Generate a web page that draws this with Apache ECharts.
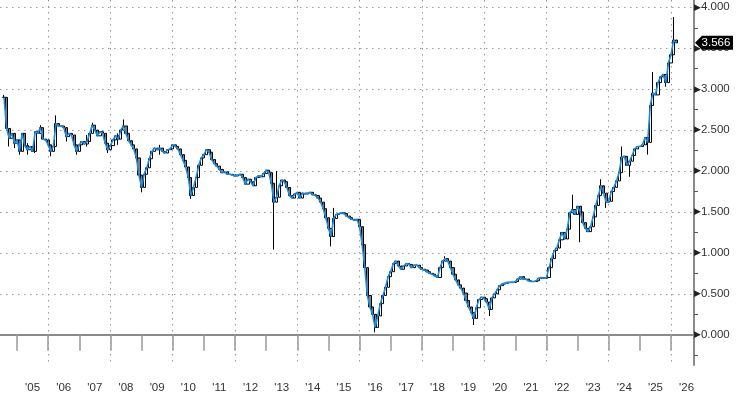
<!DOCTYPE html>
<html><head><meta charset="utf-8">
<script src="https://cdn.jsdelivr.net/npm/echarts@6/dist/echarts.min.js"></script>
<style>html,body{margin:0;padding:0;background:#fff}#c{width:736px;height:394px}</style>
</head><body><div id="c"></div>
<script>
// first monthly observation (decimal year), one value per month
const startYear = 2004.583;
const closes = [
2.90,2.52,2.40,2.46,2.34,2.38,2.24,2.46,2.31,2.26,
2.30,2.24,2.48,2.46,2.53,2.39,2.38,2.32,2.24,2.30,
2.58,2.55,2.55,2.53,2.42,2.46,2.44,2.32,2.24,2.32,
2.36,2.33,2.36,2.46,2.56,2.50,2.43,2.48,2.46,2.34,
2.26,2.31,2.38,2.43,2.39,2.50,2.55,2.46,2.37,2.32,
2.27,2.16,1.95,1.80,1.96,2.04,2.15,2.24,2.28,2.26,
2.28,2.24,2.22,2.26,2.27,2.32,2.30,2.27,2.20,2.13,
2.05,1.92,1.70,1.80,1.92,2.07,2.16,2.20,2.26,2.23,
2.14,2.09,2.06,2.02,1.98,1.99,1.96,1.96,1.95,1.94,
1.95,1.96,1.92,1.84,1.90,1.87,1.82,1.92,1.94,1.93,
1.97,2.01,1.98,1.85,1.62,1.68,1.82,1.89,1.87,1.80,
1.70,1.67,1.72,1.74,1.67,1.73,1.72,1.73,1.74,1.71,
1.70,1.67,1.62,1.54,1.43,1.30,1.20,1.42,1.47,1.48,
1.49,1.48,1.45,1.43,1.41,1.40,1.41,1.32,1.10,0.82,
0.48,0.34,0.25,0.09,0.23,0.38,0.48,0.58,0.71,0.77,
0.87,0.90,0.84,0.80,0.84,0.87,0.86,0.82,0.85,0.85,
0.82,0.80,0.79,0.77,0.75,0.74,0.72,0.70,0.82,0.90,
0.93,0.90,0.82,0.74,0.67,0.61,0.57,0.51,0.42,0.34,
0.27,0.20,0.33,0.43,0.46,0.44,0.40,0.31,0.45,0.50,
0.55,0.60,0.62,0.63,0.64,0.64,0.64,0.65,0.68,0.71,
0.68,0.68,0.66,0.65,0.65,0.66,0.69,0.70,0.69,0.70,
0.82,0.93,1.03,1.06,1.16,1.25,1.17,1.29,1.49,1.53,
1.47,1.57,1.50,1.37,1.30,1.26,1.32,1.44,1.58,1.70,
1.82,1.73,1.62,1.63,1.75,1.80,1.88,1.98,2.17,2.18,
2.07,2.12,2.19,2.27,2.30,2.30,2.32,2.41,2.35,2.80,
2.95,2.93,3.08,3.15,3.18,3.08,3.32,3.42,3.60,3.566
];
// [month index, wick low, wick high]
const spikes = [
[0,null,2.93],[2,2.30,2.50],[4,2.28,2.44],[6,2.20,null],[9,2.20,2.34],[12,2.22,null],[14,null,2.56],
[18,2.18,null],[20,null,2.68],[24,2.36,2.52],[28,2.20,null],[32,2.30,2.44],
[34,null,2.59],[40,2.22,null],[44,2.32,2.46],[46,null,2.63],[53,1.74,null],[60,2.20,2.32],[72,1.66,null],
[104,1.04,null],[105,null,2.00],[126,1.08,null],[127,null,1.55],[143,0.03,null],
[170,null,0.96],[181,0.12,null],[187,0.23,null],[219,null,1.71],[222,1.13,null],
[230,null,1.90],[232,1.55,null],[238,null,2.30],[241,1.93,null],[248,2.20,null],
[250,null,3.21],[255,3.03,null],[258,null,3.88]
];
const lastValue = 3.566;
const yearTicks = [2005,2006,2007,2008,2009,2010,2011,2012,2013,2014,2015,2016,2017,2018,2019,2020,2021,2022,2023,2024,2025,2026];
const yearLabels = ["'05","'06","'07","'08","'09","'10","'11","'12","'13","'14","'15","'16","'17","'18","'19","'20","'21","'22","'23","'24","'25","'26"];
const gridYears = [2006,2008,2010,2012,2014,2016,2018,2020,2022,2024,2026];
const valueTicks = [0,0.5,1,1.5,2,2.5,3,3.5,4];
const minorTicks = [-0.25,0.25,0.75,1.25,1.75,2.25,2.75,3.25,3.75];

const X_MIN = 2004.454, X_MAX = 2026.738, Y_MIN = -0.369, Y_MAX = 4.089;

const lineData = closes.map((v, i) => [startYear + i / 12, v]);
const spikeMap = {};
spikes.forEach(s => { spikeMap[s[0]] = s; });
const candleData = closes.map((c, i) => {
  const o = i === 0 ? c : closes[i - 1];
  let lo = Math.min(o, c), hi = Math.max(o, c);
  const s = spikeMap[i];
  if (s) { if (s[1] != null) lo = Math.min(lo, s[1]); if (s[2] != null) hi = Math.max(hi, s[2]); }
  return [startYear + i / 12, o, c, lo, hi];
});

const labelFont = 'Liberation Sans, Arial, sans-serif';
const chart = echarts.init(document.getElementById('c'));
chart.setOption({
  animation: false,
  backgroundColor: '#ffffff',
  grid: { left: 0, right: 42, top: 0, bottom: 28, containLabel: false },
  xAxis: [{
    type: 'value', min: X_MIN, max: X_MAX, position: 'bottom',
    axisLine: { show: true, lineStyle: { color: '#8a8a8a', width: 2 } },
    axisTick: { show: true, customValues: yearTicks, length: 16, lineStyle: { color: '#999', width: 1.5 } },
    axisLabel: {
      show: true, customValues: yearTicks.map(y => y + 0.5), margin: 17,
      color: '#333', fontSize: 11.5, fontFamily: labelFont,
      formatter: v => yearLabels[yearTicks.indexOf(Math.round(v - 0.5))] || ''
    },
    splitLine: { show: false }
  }, {
    type: 'value', min: X_MIN, max: X_MAX, position: 'top',
    axisLine: { show: false }, axisLabel: { show: false },
    axisTick: { show: false, customValues: gridYears },
    splitLine: { show: true, lineStyle: { color: '#9a9a9a', width: 1, type: [1.5, 4.5] } }
  }],
  yAxis: [{
    type: 'value', min: Y_MIN, max: Y_MAX, position: 'right',
    axisLine: { show: true, lineStyle: { color: '#8a8a8a', width: 2 } },
    axisTick: { show: true, inside: false, customValues: minorTicks, length: 4, lineStyle: { color: '#555', width: 1 } },
    axisLabel: {
      show: true, customValues: valueTicks, margin: 0,
      formatter: v => '{a|\u25B6}{b|' + v.toFixed(3) + '}',
      rich: {
        a: { fontFamily: 'DejaVu Sans', fontSize: 9, color: '#222', padding: [0, 0, 0, 0] },
        b: { fontFamily: labelFont, fontSize: 11.5, color: '#333' }
      }
    },
    splitLine: { show: false }
  }, {
    type: 'value', min: Y_MIN, max: Y_MAX, position: 'left',
    axisLine: { show: false }, axisLabel: { show: false },
    axisTick: { show: false, customValues: valueTicks },
    splitLine: { show: true, lineStyle: { color: '#9a9a9a', width: 1, type: [1.5, 4.5] } }
  }],
  series: [{
    type: 'candlestick', xAxisIndex: 0, yAxisIndex: 0,
    data: candleData, barWidth: 2.6, z: 3,
    itemStyle: { color: '#ffffff', color0: '#808080', borderColor: '#000000', borderColor0: '#000000', borderWidth: 1 }
  }, {
    type: 'line', xAxisIndex: 0, yAxisIndex: 0,
    data: lineData, showSymbol: false, symbol: 'none', z: 4,
    lineStyle: { color: '#1b8be0', width: 1.6 },
    markPoint: {
      silent: true, animation: false,
      symbol: 'path://M0,7 L7,0 L38,0 L38,14 L7,14 Z',
      symbolSize: [38, 14], symbolOffset: [20, 0], symbolKeepAspect: false,
      itemStyle: { color: '#000000' },
      label: { show: true, position: 'inside', offset: [2, 0], color: '#ffffff', fontSize: 11.5, fontFamily: labelFont, formatter: lastValue.toFixed(3) },
      data: [{ coord: [X_MAX, lastValue] }]
    }
  }]
});
</script></body></html>
